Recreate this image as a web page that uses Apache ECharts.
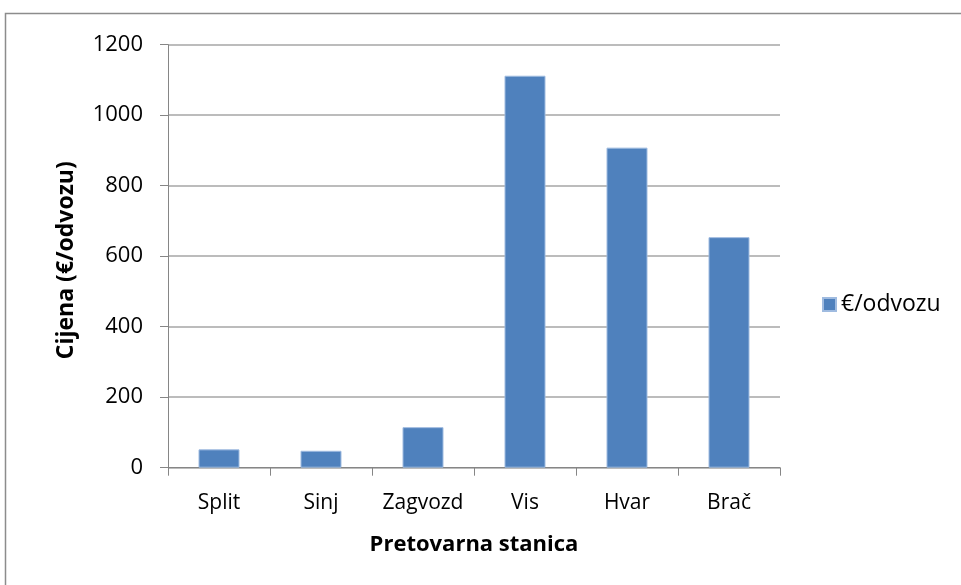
<!DOCTYPE html>
<html>
<head>
<meta charset="utf-8">
<script src="https://cdn.jsdelivr.net/npm/echarts@6/dist/echarts.min.js"></script>
<style>
html,body{margin:0;padding:0;background:#fff;}
#chart{width:961px;height:585px;}
</style>
</head>
<body>
<div id="chart"></div>
<script>
// Transfer stations and price per collection
const categories = ['Split', 'Sinj', 'Zagvozd', 'Vis', 'Hvar', 'Brač'];
const prices = [52, 48, 115, 1112, 908, 654];
const seriesName = '€/odvozu';
const yTitle = 'Cijena (€/odvozu)';
const xTitle = 'Pretovarna stanica';

const font = '"Open Sans", "Noto Sans", sans-serif';
const chart = echarts.init(document.getElementById('chart'), null, {renderer: 'canvas'});

chart.setOption({
  animation: false,
  textStyle: {fontFamily: font},
  graphic: [{
    type: 'rect',
    shape: {x: 5.5, y: 13.5, width: 1000, height: 1000},
    style: {fill: 'none', stroke: '#8c8c8c', lineWidth: 1.5},
    silent: true
  }],
  grid: {left: 168, right: 181, top: 44.7, bottom: 117.3},
  legend: {
    data: [seriesName],
    left: 817, top: 288,
    itemWidth: 13, itemHeight: 13, itemGap: 6,
    icon: 'rect',
    textStyle: {fontFamily: font, fontSize: 23, color: '#000'}
  },
  xAxis: {
    type: 'category',
    data: categories,
    name: xTitle,
    nameLocation: 'middle',
    nameGap: 66,
    nameTextStyle: {fontFamily: font, fontSize: 22, fontWeight: 'bold', color: '#000'},
    axisLine: {lineStyle: {color: '#868686', width: 1}},
    axisTick: {show: true, length: 8, lineStyle: {color: '#868686'}},
    axisLabel: {fontFamily: font, fontSize: 21, color: '#000', margin: 25, interval: 0}
  },
  yAxis: {
    type: 'value',
    min: 0, max: 1200, interval: 200,
    name: yTitle,
    nameLocation: 'middle',
    nameGap: 90,
    nameRotate: 90,
    nameTextStyle: {fontFamily: font, fontSize: 23, fontWeight: 'bold', color: '#000',
      padding: [0, 8, 0, 0]},
    axisLine: {show: true, lineStyle: {color: '#868686', width: 1}},
    axisTick: {show: true, length: 8, lineStyle: {color: '#868686'}},
    axisLabel: {fontFamily: font, fontSize: 22, color: '#000', margin: 25,
      formatter: v => String(v)},
    splitLine: {lineStyle: {color: '#a6a6a6', width: 1.5}}
  },
  series: [{
    name: seriesName,
    type: 'bar',
    data: prices,
    barWidth: 41,
    itemStyle: {color: '#4f81bd', borderColor: '#9fbbe0', borderWidth: 1}
  }]
});
</script>
</body>
</html>
